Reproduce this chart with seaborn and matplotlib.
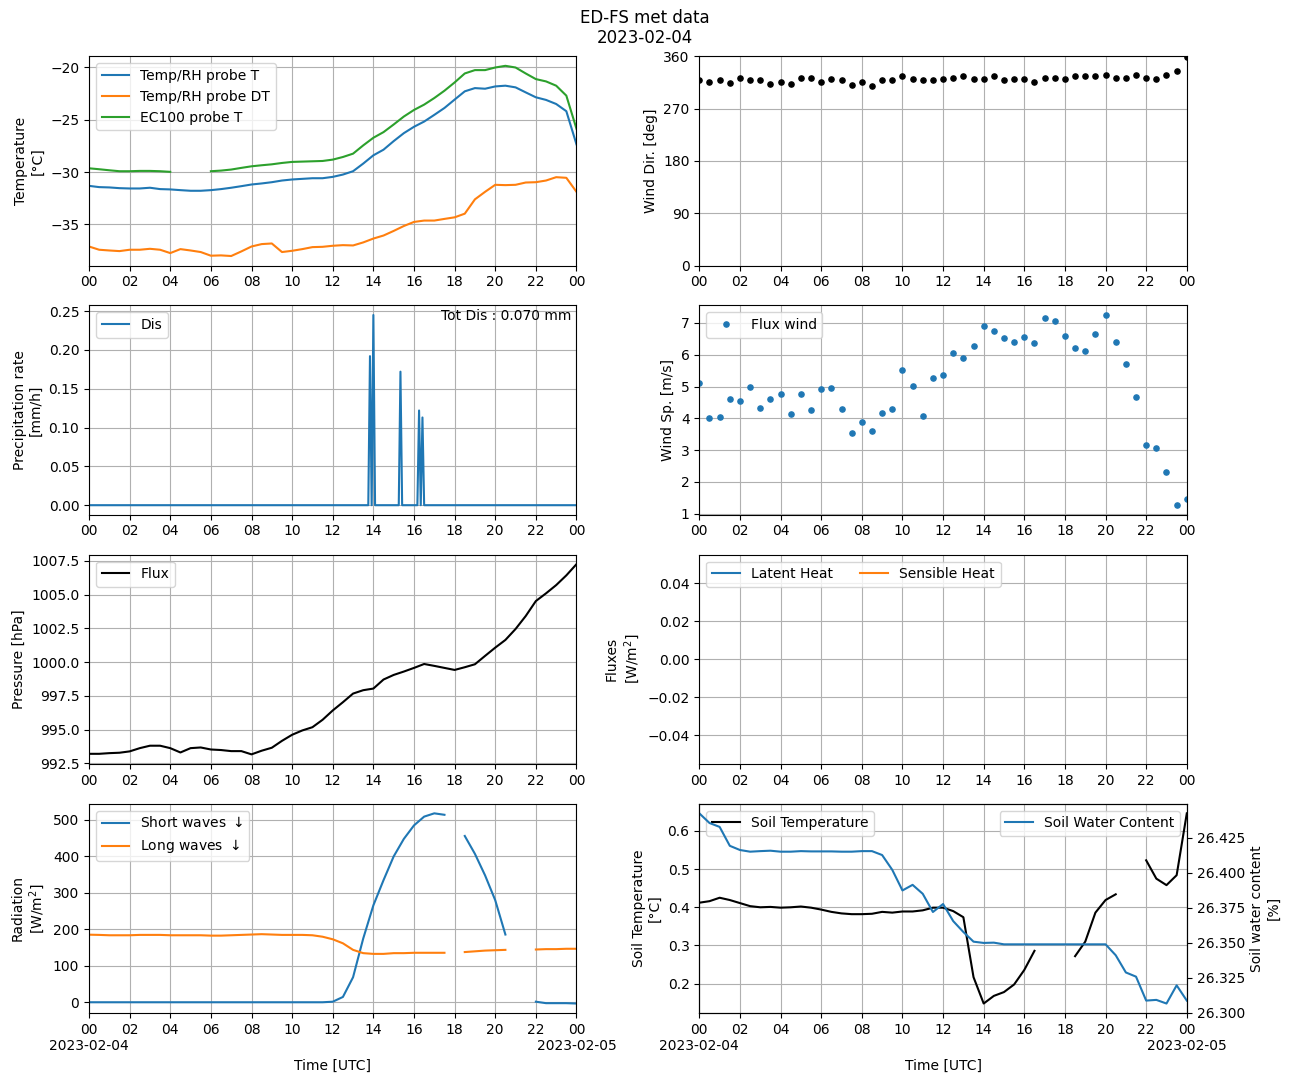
import numpy as np
import pandas as pd
import matplotlib
matplotlib.use("Agg")
import matplotlib.pyplot as plt
import matplotlib.dates as mdates
from matplotlib.ticker import FuncFormatter
import seaborn as sns

nan = np.nan

# 30-min time axis, 2023-02-04 00:00 -> 2023-02-05 00:00
times = pd.date_range("2023-02-04 00:00", "2023-02-05 00:00", freq="30min")

temp_t = [-31.32,
          -31.44, -31.47, -31.54, -31.57, -31.57, -31.50, -31.63, -31.66,
          -31.73, -31.79, -31.79, -31.73, -31.63, -31.50, -31.35, -31.19,
          -31.09, -30.97, -30.81, -30.71, -30.65, -30.59, -30.59, -30.46,
          -30.24, -29.92, -29.19, -28.40, -27.86, -27.04, -26.28, -25.67,
          -25.17, -24.53, -23.87, -23.07, -22.28, -21.97, -22.03, -21.81,
          -21.74, -21.90, -22.38, -22.85, -23.10, -23.49, -24.18, -27.35]
temp_dt = [-37.12,
           -37.43, -37.50, -37.56, -37.43, -37.43, -37.34, -37.43, -37.75,
           -37.37, -37.50, -37.65, -38.00, -37.97, -38.03, -37.59, -37.12,
           -36.89, -36.83, -37.65, -37.53, -37.37, -37.18, -37.15, -37.05,
           -36.99, -37.02, -36.73, -36.36, -36.07, -35.63, -35.16, -34.77,
           -34.64, -34.64, -34.48, -34.33, -33.98, -32.61, -31.89, -31.22,
           -31.25, -31.22, -31.00, -30.97, -30.81, -30.49, -30.55, -31.89]
temp_ec100 = [-29.64,
              -29.73, -29.83, -29.92, -29.92, -29.89, -29.89, -29.92, -29.98,
              nan, nan, nan, -29.92, -29.86, -29.76, -29.60, -29.45,
              -29.35, -29.26, -29.13, -29.03, -29.00, -28.97, -28.94, -28.81,
              -28.56, -28.24, -27.45, -26.72, -26.18, -25.45, -24.69, -24.06,
              -23.55, -22.92, -22.22, -21.43, -20.57, -20.25, -20.25, -20.00,
              -19.84, -20.00, -20.57, -21.11, -21.33, -21.74, -22.69, -25.86]

wind_dir = [318.4,
            316.6, 318.4, 314.9, 323.5, 320.1, 318.4, 313.2, 316.6,
            313.2, 323.5, 323.5, 316.6, 321.8, 320.1, 311.5, 316.6,
            308.1, 318.4, 320.1, 325.8, 321.8, 320.1, 320.1, 321.8,
            323.5, 325.8, 321.8, 321.8, 325.8, 320.1, 321.8, 321.8,
            316.6, 323.5, 323.5, 321.8, 325.8, 325.8, 325.8, 327.5,
            323.5, 323.5, 327.5, 323.5, 321.8, 327.5, 335.5, 358.9]
wind_sp = [5.12,
           4.00, 4.03, 4.62, 4.56, 5.00, 4.34, 4.62, 4.76,
           4.15, 4.76, 4.25, 4.93, 4.97, 4.28, 3.53, 3.90,
           3.59, 4.18, 4.31, 5.53, 5.03, 4.06, 5.28, 5.37,
           6.06, 5.90, 6.28, 6.91, 6.75, 6.53, 6.41, 6.56,
           6.37, 7.16, 7.06, 6.59, 6.22, 6.12, 6.66, 7.25,
           6.41, 5.72, 4.68, 3.15, 3.06, 2.30, 1.27, 1.46]

pressure = [993.21,
            993.21, 993.26, 993.29, 993.39, 993.63, 993.81, 993.81, 993.63,
            993.31, 993.63, 993.68, 993.53, 993.49, 993.41, 993.41, 993.17,
            993.44, 993.66, 994.17, 994.62, 994.94, 995.18, 995.73, 996.42,
            997.03, 997.67, 997.92, 998.04, 998.71, 999.05, 999.30, 999.57,
            999.86, 999.72, 999.57, 999.42, 999.62, 999.84, 1000.46, 1001.07,
            1001.64, 1002.45, 1003.41, 1004.52, 1005.09, 1005.70, 1006.42, 1007.25]

sw_down = [0.5,
           0.5, 0.5, 0.5, 0.5, 0.5, 0.5, 0.5, 0.5,
           0.5, 0.5, 0.5, 0.5, 0.5, 0.5, 0.5, 0.5,
           0.5, 0.5, 0.5, 0.5, 0.5, 0.5, 0.5, 2.0,
           15.0, 69.0, 175.0, 266.0, 335.0, 400.0, 448.0, 485.0,
           509.0, 518.0, 514.0, nan, 456.0, 407.0, 348.0, 280.0,
           186.0, nan, nan, 2.0, -2.0, -2.0, -2.0, -3.0]
lw_down = [185.6,
           185, 184, 184, 184, 185, 185, 185, 184,
           184, 184, 184, 183, 183, 184, 185, 186,
           187, 186, 185, 185, 185, 184, 180, 173,
           162, 144, 135, 133, 133, 135, 135, 136,
           136, 136, 136, nan, 138, 140, 142, 143,
           144, nan, nan, 145, 146, 146, 147, 147]

soil_t = [0.412,
          0.416, 0.425, 0.419, 0.411, 0.403, 0.400, 0.401, 0.399,
          0.400, 0.402, 0.399, 0.394, 0.388, 0.384, 0.382, 0.382,
          0.383, 0.388, 0.386, 0.389, 0.389, 0.392, 0.399, 0.399,
          0.390, 0.374, 0.217, 0.148, 0.168, 0.178, 0.198, 0.236,
          0.286, nan, nan, nan, 0.272, 0.310, 0.386, 0.419,
          0.434, nan, nan, 0.523, 0.475, 0.458, 0.484, 0.646]
soil_wc = [26.4425,
           26.4356, 26.4328, 26.4193, 26.4163, 26.4151, 26.4155, 26.4158, 26.4151,
           26.4151, 26.4155, 26.4153, 26.4153, 26.4153, 26.4151, 26.4151, 26.4155,
           26.4155, 26.4127, 26.4021, 26.3874, 26.3914, 26.3850, 26.3720, 26.3777,
           26.3655, 26.3577, 26.3508, 26.3499, 26.3501, 26.3489, 26.3489, 26.3489,
           26.3489, 26.3489, 26.3489, 26.3489, 26.3489, 26.3489, 26.3489, 26.3489,
           26.3411, 26.3288, 26.3258, 26.3087, 26.3092, 26.3066, 26.3196, 26.3087]

# precipitation (5-min data), only the non-zero records
precip_times = ["13:50", "14:00", "15:20", "16:15", "16:25"]
precip_rates = [0.192, 0.245, 0.172, 0.122, 0.113]

# latent / sensible heat fluxes: no valid data this day
latent_heat = [nan] * len(times)
sensible_heat = [nan] * len(times)

# ---- dataframes
df = pd.DataFrame({"time": times, "temp_t": temp_t, "temp_dt": temp_dt,
                   "ec100": temp_ec100, "wdir": wind_dir, "wsp": wind_sp,
                   "pres": pressure, "sw": sw_down, "lw": lw_down,
                   "soil_t": soil_t, "swc": soil_wc,
                   "le": latent_heat, "h": sensible_heat})

p_times = pd.date_range("2023-02-04 00:00", "2023-02-05 00:00", freq="5min")
precip = pd.Series(0.0, index=p_times)
for t, r in zip(precip_times, precip_rates):
    precip[pd.Timestamp("2023-02-04 " + t)] = r
pdf = precip.rename("dis").rename_axis("time").reset_index()
tot_dis = precip.sum() * 5 / 60

t0 = pd.Timestamp("2023-02-04 00:00")
t1 = pd.Timestamp("2023-02-05 00:00")

fig, axes = plt.subplots(4, 2, figsize=(12.9, 10.83))
fig.subplots_adjust(left=0.069, right=0.92, top=0.948, bottom=0.0646,
                    wspace=0.252, hspace=0.191)
fig.suptitle("ED-FS met data\n2023-02-04", y=0.992)

# temperature
ax = axes[0, 0]
sns.lineplot(data=df, x="time", y="temp_t", ax=ax, label="Temp/RH probe T")
sns.lineplot(data=df, x="time", y="temp_dt", ax=ax, label="Temp/RH probe DT")
ax.plot(df["time"], df["ec100"], color="C2", label="EC100 probe T")
ax.set_ylabel("Temperature\n[°C]")
ax.legend(loc="upper left")

# wind direction
ax = axes[0, 1]
ax.plot(df["time"], df["wdir"], ".", color="k", ms=7.5)
ax.set_ylim(0, 360)
ax.set_yticks([0, 90, 180, 270, 360])
ax.set_ylabel("Wind Dir. [deg]")

# precipitation
ax = axes[1, 0]
sns.lineplot(data=pdf, x="time", y="dis", ax=ax, label="Dis")
ax.text(0.99, 0.985, f"Tot Dis : {tot_dis:.3f} mm", transform=ax.transAxes,
        ha="right", va="top")
ax.set_ylabel("Precipitation rate\n[mm/h]")
ax.legend(loc="upper left")

# wind speed
ax = axes[1, 1]
ax.plot(df["time"], df["wsp"], ".", color="C0", ms=7.5, label="Flux wind")
ax.set_ylabel("Wind Sp. [m/s]")
ax.legend(loc="upper left")

# pressure
ax = axes[2, 0]
sns.lineplot(data=df, x="time", y="pres", ax=ax, color="k", label="Flux")
ax.set_ylabel("Pressure [hPa]")
ax.legend(loc="upper left")

# fluxes
ax = axes[2, 1]
ax.plot(df["time"], df["le"], color="C0", label="Latent Heat")
ax.plot(df["time"], df["h"], color="C1", label="Sensible Heat")
ax.set_ylim(-0.055, 0.055)
ax.set_ylabel("Fluxes\n[W/m$^2$]")
ax.legend(loc="upper left", ncol=2)

# radiation
ax = axes[3, 0]
ax.plot(df["time"], df["sw"], color="C0", label="Short waves $\\downarrow$")
ax.plot(df["time"], df["lw"], color="C1", label="Long waves $\\downarrow$")
ax.set_ylabel("Radiation\n[W/m$^2$]")
ax.legend(loc="upper left")

# soil
ax = axes[3, 1]
ax.plot(df["time"], df["soil_t"], color="k", label="Soil Temperature")
ax.set_ylabel("Soil Temperature\n[°C]")
ax.legend(loc="upper left")
ax2 = ax.twinx()
sns.lineplot(data=df, x="time", y="swc", ax=ax2, color="C0",
             label="Soil Water Content")
ax2.set_ylabel("Soil water content\n[%]")
ax2.set_xlabel("")
ax2.legend(loc="upper right")
ax2.set_xlim(t0, t1)


def hour_fmt(x, pos):
    return mdates.num2date(x).strftime("%H")


def hour_date_fmt(x, pos):
    d = mdates.num2date(x)
    if d.hour == 0:
        return d.strftime("%H\n%Y-%m-%d")
    return d.strftime("%H")


for i, ax in enumerate(axes.flat):
    ax.set_xlim(t0, t1)
    ax.xaxis.set_major_locator(mdates.HourLocator(byhour=range(0, 24, 2)))
    ax.grid(True)
    if i >= 6:
        ax.xaxis.set_major_formatter(FuncFormatter(hour_date_fmt))
        ax.set_xlabel("Time [UTC]")
    else:
        ax.xaxis.set_major_formatter(FuncFormatter(hour_fmt))
        ax.set_xlabel("")

fig.savefig("out.png", dpi=100)
